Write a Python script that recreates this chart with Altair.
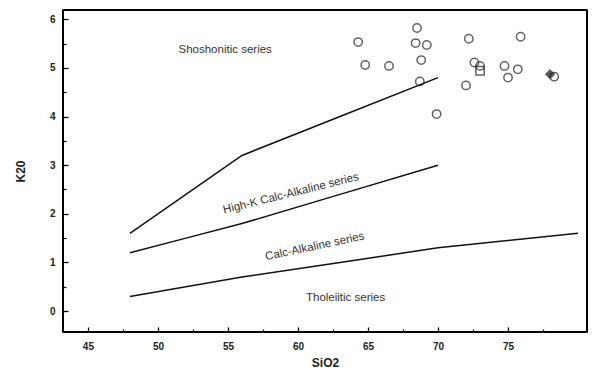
import altair as alt
import pandas as pd

# Boundary lines (Peccerillo & Taylor style)
line_names = ["Shoshonitic/High-K", "High-K/Calc-Alkaline", "Calc-Alkaline/Tholeiitic"]
line1_x = [48, 56, 63, 70]
line1_y = [1.6, 3.2, 4.0, 4.8]
line2_x = [48, 52, 56, 63, 70]
line2_y = [1.2, 1.5, 1.8, 2.4, 3.0]
line3_x = [48, 52, 56, 63, 70, 80]
line3_y = [0.3, 0.5, 0.7, 1.0, 1.3, 1.6]

# Samples
sample_x = [64.3, 68.5, 68.4, 69.2, 64.8, 66.5, 68.8, 68.7, 69.9, 72.2, 72.6, 73.0,
            73.0, 72.0, 74.75, 75.7, 75.0, 75.9, 78.3, 78.0]
sample_y = [5.53, 5.82, 5.51, 5.47, 5.06, 5.04, 5.16, 4.72, 4.05, 5.60, 5.11, 5.04,
            4.94, 4.64, 5.04, 4.97, 4.80, 5.64, 4.82, 4.87]
sample_type = ["circle"] * 12 + ["square"] + ["circle"] * 5 + ["circle", "diamond"]

# Field labels
label_text = ["Shoshonitic series", "High-K Calc-Alkaline series", "Calc-Alkaline series", "Tholeiitic series"]
label_x = [54.8, 59.5, 61.2, 63.4]
label_y = [5.37, 2.41, 1.32, 0.26]
label_angle = [0, 346, 348, 0]

x_major = [45, 50, 55, 60, 65, 70, 75]
x_minor = [47.5, 52.5, 57.5, 62.5, 67.5, 72.5, 77.5]
y_major = [0, 1, 2, 3, 4, 5, 6]
y_minor = [0.5, 1.5, 2.5, 3.5, 4.5, 5.5]

# Plot frame limits (axis extents)
x_limits = [43.22, 80.64]
y_limits = [-0.43, 6.19]

W, H = 524, 322

rows = []
for name, xs_, ys_ in zip(line_names, [line1_x, line2_x, line3_x], [line1_y, line2_y, line3_y]):
    for i, (a, b) in enumerate(zip(xs_, ys_)):
        rows.append({"series": name, "x": a, "y": b, "order": i})
lines_df = pd.DataFrame(rows)
pts_df = pd.DataFrame({"x": sample_x, "y": sample_y, "type": sample_type})
lab_df = pd.DataFrame({"text": label_text, "x": label_x, "y": label_y, "angle": label_angle})

xs = alt.Scale(domain=x_limits, nice=False, zero=False)
ys = alt.Scale(domain=y_limits, nice=False, zero=False)

FONT = "Liberation Sans"

x_axis = alt.Axis(values=x_major, orient="bottom", offset=-5, tickSize=5, tickWidth=1.3,
                  tickColor="black", domain=False, grid=False, labelPadding=9,
                  labelFont=FONT, labelFontSize=10, labelFontWeight="bold", labelColor="#222",
                  title="SiO2", titleFont=FONT, titleFontSize=12, titleFontWeight="bold",
                  titleColor="#222", titlePadding=6)
y_axis = alt.Axis(values=y_major, orient="left", offset=-5, tickSize=5, tickWidth=1.3,
                  tickColor="black", domain=False, grid=False, labelPadding=8,
                  labelFont=FONT, labelFontSize=10, labelFontWeight="bold", labelColor="#222",
                  title="K20", titleFont=FONT, titleFontSize=12, titleFontWeight="bold",
                  titleColor="#222", titlePadding=22)

x_axis_minor = alt.Axis(values=x_minor, orient="bottom", offset=-3, tickSize=3, tickWidth=1.2,
                        tickColor="black", domain=False, grid=False, labels=False, title=None)
y_axis_minor = alt.Axis(values=y_minor, orient="left", offset=-3, tickSize=3, tickWidth=1.2,
                        tickColor="black", domain=False, grid=False, labels=False, title=None)

lines = alt.Chart(lines_df).mark_line(color="#111", strokeWidth=1.5).encode(
    x=alt.X("x:Q", scale=xs, axis=x_axis),
    y=alt.Y("y:Q", scale=ys, axis=y_axis),
    detail="series:N",
    order="order:Q",
)

minor = alt.Chart(lines_df).mark_point(opacity=0).encode(
    x=alt.X("x:Q", scale=xs, axis=x_axis_minor),
    y=alt.Y("y:Q", scale=ys, axis=y_axis_minor),
)

frame_v = alt.Chart(pd.DataFrame({"x": x_limits})).mark_rule(color="black", strokeWidth=2).encode(
    x=alt.X("x:Q", scale=xs, axis=None)
)
frame_h = alt.Chart(pd.DataFrame({"y": y_limits})).mark_rule(color="black", strokeWidth=2).encode(
    y=alt.Y("y:Q", scale=ys, axis=None)
)

points = alt.Chart(pts_df).mark_point(strokeWidth=1.5, color="#222").encode(
    x=alt.X("x:Q", scale=xs, axis=None),
    y=alt.Y("y:Q", scale=ys, axis=None),
    shape=alt.Shape("type:N", scale=alt.Scale(domain=["circle", "square", "diamond"],
                                              range=["circle", "square", "diamond"]), legend=None),
    size=alt.Size("type:N", scale=alt.Scale(domain=["circle", "square", "diamond"],
                                            range=[70, 70, 40]), legend=None),
    fill=alt.Fill("type:N", scale=alt.Scale(domain=["circle", "square", "diamond"],
                                            range=["transparent", "transparent", "#111"]), legend=None),
)

labels = alt.Chart(lab_df).mark_text(font=FONT, fontSize=11.5, color="#333").encode(
    x=alt.X("x:Q", scale=xs, axis=None),
    y=alt.Y("y:Q", scale=ys, axis=None),
    text="text:N",
    angle=alt.Angle("angle:Q", scale=None),
)

chart = alt.layer(lines, minor, frame_v, frame_h, points, labels).resolve_axis(
    x="independent", y="independent"
).properties(
    width=W, height=H,
    autosize=alt.AutoSizeParams(type="none"),
    padding={"left": 55, "top": 2, "right": 1, "bottom": 40},
).configure(
    background="white",
    view=alt.ViewConfig(stroke="black", strokeWidth=1.6),
)

chart.save("out.html", embed_options={"renderer": "svg", "actions": False})
